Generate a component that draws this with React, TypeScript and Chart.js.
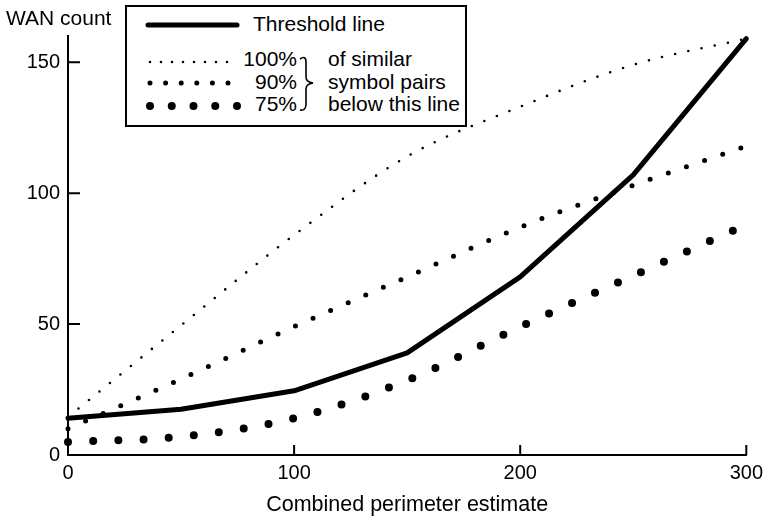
import React, { useEffect, useRef } from "react";
import { Chart, registerables } from "chart.js";

Chart.register(...registerables);

const xTicks = [0, 100, 200, 300];
const yTicks = [0, 50, 100, 150];
const xValues = [0, 50, 100, 150, 200, 250, 300];
const threshold = [14, 17.5, 24.5, 39, 68, 107, 159];
const pct100 = [14.5, 49.5, 84, 114, 133, 149, 159];
const pct90 = [10, 29, 49, 68, 87, 103, 118];
const x75 = [0, 50, 100, 150, 200, 250, 295];
const pct75 = [5, 7, 14, 28.5, 49, 68.5, 86];
const legendLabels = ["Threshold line", "100%", "90%", "75%"];
const braceLines = ["of similar", "symbol pairs", "below this line"];
const yTitle = "WAN count";
const xTitle = "Combined perimeter estimate";

const FONT = "'Liberation Sans', Arial, Helvetica, sans-serif";

const pts = (xs: number[], ys: number[]) => xs.map((x, i) => ({ x, y: ys[i] }));

const innerTicks = {
  id: "innerTicks",
  afterDraw(chart: any) {
    const { ctx } = chart;
    const x = chart.scales.x;
    const y = chart.scales.y;
    ctx.save();
    ctx.strokeStyle = "#000";
    ctx.lineWidth = 2;
    ctx.beginPath();
    yTicks.forEach((v) => {
      if (v === 0) return;
      const py = y.getPixelForValue(v);
      ctx.moveTo(x.left, py);
      ctx.lineTo(x.left + 12, py);
    });
    xTicks.forEach((v) => {
      if (v === 0) return;
      const px = x.getPixelForValue(v);
      ctx.moveTo(px, y.bottom);
      ctx.lineTo(px, y.bottom - 10);
    });
    ctx.stroke();
    ctx.restore();
  },
};

export default function App() {
  const ref = useRef<HTMLCanvasElement | null>(null);

  useEffect(() => {
    if (!ref.current) return;
    const chart = new Chart(ref.current, {
      type: "line",
      data: {
        datasets: [
          {
            label: legendLabels[0],
            data: pts(xValues, threshold),
            borderColor: "#000",
            borderWidth: 5,
            tension: 0,
            borderCapStyle: "round",
            borderJoinStyle: "round",
            pointRadius: 0,
            clip: false,
          },
          {
            label: legendLabels[1],
            data: pts(xValues, pct100),
            borderColor: "#000",
            borderWidth: 2.6,
            cubicInterpolationMode: "monotone",
            borderDash: [0, 13.5],
            borderCapStyle: "round",
            pointRadius: 0,
            clip: false,
          },
          {
            label: legendLabels[2],
            data: pts(xValues, pct90),
            borderColor: "#000",
            borderWidth: 5,
            cubicInterpolationMode: "monotone",
            borderDash: [0, 19.2],
            borderCapStyle: "round",
            pointRadius: 0,
            clip: false,
          },
          {
            label: legendLabels[3],
            data: pts(x75, pct75),
            borderColor: "#000",
            borderWidth: 8,
            cubicInterpolationMode: "monotone",
            borderDash: [0, 25.2],
            borderCapStyle: "round",
            pointRadius: 0,
            clip: false,
          },
        ],
      },
      options: {
        animation: false,
        responsive: false,
        layout: { padding: { top: 36, right: 20, left: 0, bottom: 0 } },
        plugins: {
          legend: { display: false },
          tooltip: { enabled: false },
        },
        scales: {
          x: {
            type: "linear",
            min: 0,
            max: 300,
            afterBuildTicks: (s: any) => {
              s.ticks = xTicks.map((v) => ({ value: v }));
            },
            afterFit: (s: any) => {
              s.height = 68;
            },
            grid: { display: false, drawTicks: false },
            border: { display: true, color: "#000", width: 2 },
            ticks: {
              color: "#000",
              padding: 6,
              maxRotation: 0,
              font: { family: FONT, size: 20 },
            },
            title: {
              display: true,
              text: xTitle,
              color: "#000",
              font: { family: FONT, size: 21.5 },
              padding: { top: 0, bottom: 5 },
            },
          },
          y: {
            type: "linear",
            min: 0,
            max: 160,
            afterBuildTicks: (s: any) => {
              s.ticks = yTicks.map((v) => ({ value: v }));
            },
            afterFit: (s: any) => {
              s.width = 68;
            },
            grid: { display: false, drawTicks: false },
            border: { display: true, color: "#000", width: 2 },
            ticks: {
              color: "#000",
              padding: 8,
              font: { family: FONT, size: 20 },
            },
          },
        },
      },
      plugins: [innerTicks],
    } as any);
    return () => chart.destroy();
  }, []);

  const textStyle: React.CSSProperties = {
    position: "absolute",
    fontFamily: FONT,
    fontSize: 21,
    lineHeight: "24px",
    color: "#000",
    whiteSpace: "nowrap",
  };

  return (
    <div style={{ position: "fixed", left: 0, top: 0, width: 769, height: 523, background: "#fff" }}>
      <canvas ref={ref} width={769} height={523} style={{ position: "absolute", left: 0, top: 0 }} />
      <div style={{ ...textStyle, left: 6, top: 6 }}>{yTitle}</div>
      <div
        style={{
          position: "absolute",
          left: 125,
          top: 5,
          width: 338,
          height: 118,
          border: "2px solid #000",
          background: "#fff",
        }}
      />
      <svg width={769} height={140} style={{ position: "absolute", left: 0, top: 0 }}>
        <line x1={148} y1={25} x2={237} y2={25} stroke="#000" strokeWidth={5} strokeLinecap="round" />
        <line x1={150} y1={62} x2={228} y2={62} stroke="#000" strokeWidth={2.6} strokeLinecap="round" strokeDasharray="0 11" />
        <line x1={150} y1={83} x2={229} y2={83} stroke="#000" strokeWidth={5} strokeLinecap="round" strokeDasharray="0 15.6" />
        <line x1={150} y1={106} x2={238} y2={106} stroke="#000" strokeWidth={8} strokeLinecap="round" strokeDasharray="0 21.75" />
        <path
          d="M300 59 Q306 55 306 62 L306 77 Q306 82 313 83 Q306 84 306 89 L306 104 Q306 111 300 110"
          fill="none"
          stroke="#000"
          strokeWidth={1.6}
        />
      </svg>
      <div style={{ ...textStyle, left: 253, top: 12 }}>{legendLabels[0]}</div>
      <div style={{ ...textStyle, left: 227, width: 70, textAlign: "right", top: 47 }}>{legendLabels[1]}</div>
      <div style={{ ...textStyle, left: 227, width: 70, textAlign: "right", top: 70 }}>{legendLabels[2]}</div>
      <div style={{ ...textStyle, left: 227, width: 70, textAlign: "right", top: 92 }}>{legendLabels[3]}</div>
      <div style={{ ...textStyle, left: 328, top: 47 }}>{braceLines[0]}</div>
      <div style={{ ...textStyle, left: 328, top: 70 }}>{braceLines[1]}</div>
      <div style={{ ...textStyle, left: 328, top: 92 }}>{braceLines[2]}</div>
    </div>
  );
}
